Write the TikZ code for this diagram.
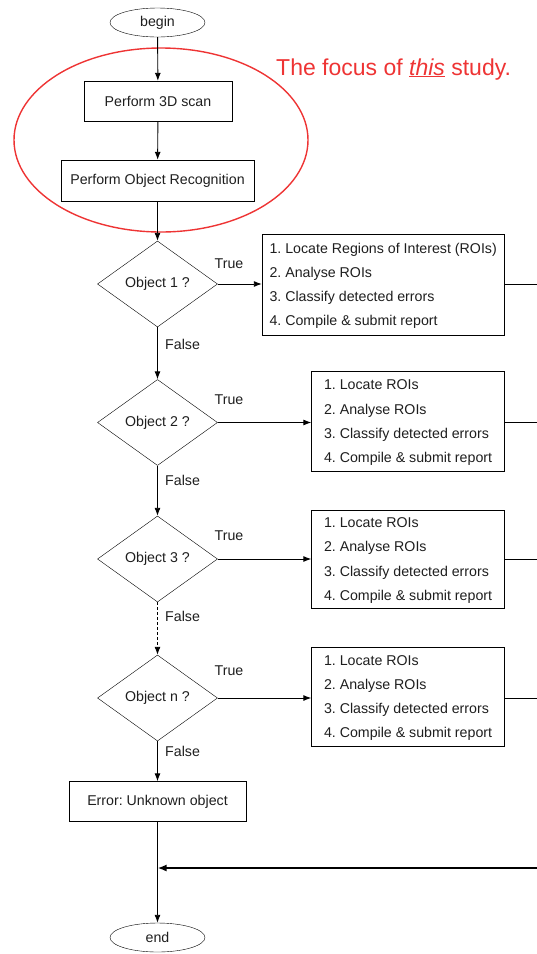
\documentclass[tikz,border=0pt]{standalone}
\usepackage{fontspec}
\setmainfont{Liberation Sans}
\usetikzlibrary{shapes.geometric,arrows.meta}
\definecolor{focusred}{RGB}{238,52,52}
\definecolor{ink}{RGB}{30,30,30}
\frenchspacing
\hyphenpenalty=10000\relax

\begin{document}
\begin{tikzpicture}[x=1pt,y=-1pt,
  base/.style={font=\fontsize{14.2}{17}\selectfont, text=ink},
  term/.style={base, draw, ellipse, minimum width=95pt, minimum height=29pt, inner sep=0pt},
  procbox/.style={base, draw, rectangle, minimum height=40pt, inner sep=0pt},
  decision/.style={base, draw, diamond, minimum width=120pt, minimum height=86pt, inner sep=0pt},
  stepbox/.style={draw, rectangle, inner sep=0pt},
  steptext/.style={anchor=west, align=left, text=ink, inner sep=0pt,
    font=\fontsize{14.2}{24.2}\selectfont},
  flow/.style={-{Latex[length=8pt,width=6pt]}, line width=0.9pt},
  plain/.style={line width=0.9pt},
  lbl/.style={base, inner sep=0pt},
  focusring/.style={draw=focusred, line width=1.4pt}
]
\useasboundingbox (0,0) rectangle (537,954);

% main column
\node[term] (begin) at (157.5,22.5) {begin};
\node[procbox, minimum width=148pt] (scan) at (158,101) {Perform 3D scan};
\node[procbox, minimum width=193pt, minimum height=41pt] (recog) at (157.5,180.5) {Perform Object Recognition};

% highlighted part of the pipeline
\draw[focusring] (161,140) ellipse [x radius=147, y radius=92];
\node[anchor=base west, inner sep=0pt, text=focusred, font=\fontsize{23}{27}\selectfont]
  (focus) at (276,75) {The focus of \underline{\textit{this}} study.};

% decisions
\node[decision] (d1) at (157.5,284) {Object 1 ?};
\node[decision] (d2) at (157.5,422.5) {Object 2 ?};
\node[decision] (d3) at (157.5,559) {Object 3 ?};
\node[decision] (dn) at (157.5,698) {Object n ?};

% inspection steps
\node[stepbox, minimum width=242pt, minimum height=101pt] (s1) at (383,284.5) {};
\node[stepbox, minimum width=193pt, minimum height=100.5pt] (s2) at (408,421.3) {};
\node[stepbox, minimum width=193pt, minimum height=98pt] (s3) at (408,559) {};
\node[stepbox, minimum width=193pt, minimum height=99pt] (sn) at (408,696.5) {};

\node[steptext] (s1t) at ([xshift=7.5pt, yshift=-1.5pt]s1.west)
  {1. Locate Regions of Interest (ROIs)\\2. Analyse ROIs\\3. Classify detected errors\\4. Compile \& submit report};
\node[steptext] (s2t) at ([xshift=12.5pt, yshift=-1.5pt]s2.west)
  {1. Locate ROIs\\2. Analyse ROIs\\3. Classify detected errors\\4. Compile \& submit report};
\node[steptext] (s3t) at ([xshift=12.5pt, yshift=-1.5pt]s3.west)
  {1. Locate ROIs\\2. Analyse ROIs\\3. Classify detected errors\\4. Compile \& submit report};
\node[steptext] (snt) at ([xshift=12.5pt, yshift=-1.5pt]sn.west)
  {1. Locate ROIs\\2. Analyse ROIs\\3. Classify detected errors\\4. Compile \& submit report};

\node[procbox, minimum width=177pt] (err) at (157.5,801.5) {Error: Unknown object};
\node[term] (end) at (157.5,937.5) {end};

% exits running off to the right
\coordinate (o1) at (537,284);
\coordinate (o2) at (537,422);
\coordinate (o3) at (537,559);
\coordinate (on) at (537,698);
\coordinate (back) at (537,868);
\coordinate (join) at (157.5,868);

% connectors
\draw[flow] (begin) -- (scan);
\draw[flow] (scan) -- (recog);
\draw[flow] (recog) -- (d1);
\draw[flow] (d1) -- (d2);
\draw[flow] (d2) -- (d3);
\draw[flow, dashed, dash pattern=on 3pt off 2pt] (d3) -- (dn);
\draw[flow] (dn) -- (err);
\draw[flow] (err) -- (end);

\draw[flow] (d1.east) -- (d1.east -| s1.west);
\draw[flow] (d2.east) -- (d2.east -| s2.west);
\draw[flow] (d3.east) -- (d3.east -| s3.west);
\draw[flow] (dn.east) -- (dn.east -| sn.west);

\draw[plain] (s1.east |- o1) -- (o1);
\draw[plain] (s2.east |- o2) -- (o2);
\draw[plain] (s3.east |- o3) -- (o3);
\draw[plain] (sn.east |- on) -- (on);
\draw[-{Latex[length=9pt,width=7pt]}, line width=1.8pt] (back) -- (join);

% branch labels
\node[lbl] (t1) at (229,264) {True};
\node[lbl] (t2) at (229,400) {True};
\node[lbl] (t3) at (229,536) {True};
\node[lbl] (tn) at (229,671) {True};
\node[lbl, anchor=west] (f1) at (165,344) {False};
\node[lbl, anchor=west] (f2) at (165,480) {False};
\node[lbl, anchor=west] (f3) at (165,616) {False};
\node[lbl, anchor=west] (fn) at (165,751) {False};
\end{tikzpicture}
\end{document}
